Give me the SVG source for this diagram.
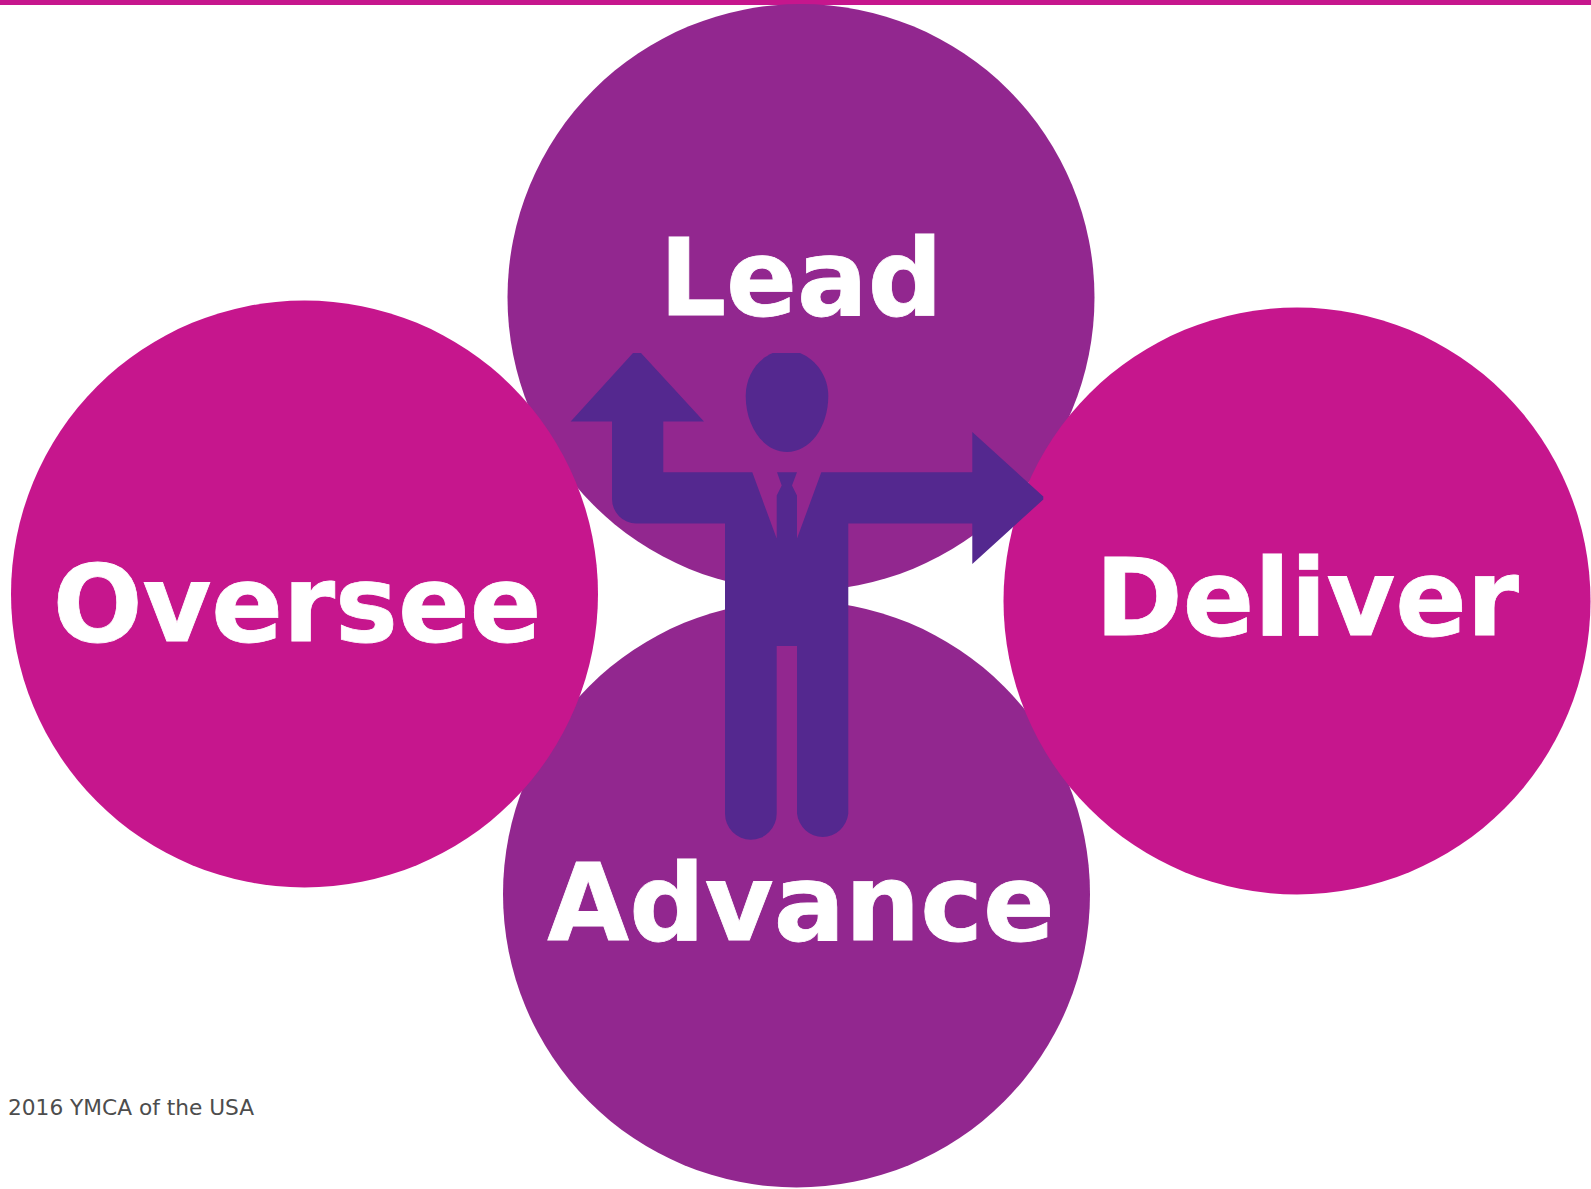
<svg xmlns="http://www.w3.org/2000/svg" width="1591" height="1189" viewBox="0 0 1591 1189">
<style>
.purple{fill:#92278f}
.magenta{fill:#c6168d}
.label{font-family:"DejaVu Sans",Verdana,sans-serif;font-weight:700;font-size:107px;fill:#fff;text-anchor:middle;stroke:#fff;stroke-width:.8px}
.note{font-family:"DejaVu Sans",Verdana,sans-serif;font-size:21.7px;fill:#4d4d4d}
</style>
<rect width="1591" height="1189" fill="#fff"/>
<rect id="top-bar" class="magenta" x="0" y="0" width="1591" height="5"/>
<g id="lead"><circle class="purple" cx="801" cy="297.5" r="293.5"/></g>
<g id="advance"><circle class="purple" cx="796.5" cy="894" r="293.5"/></g>
<g id="oversee"><circle class="magenta" cx="304.5" cy="594" r="293.5"/></g>
<g id="deliver"><circle class="magenta" cx="1297" cy="601" r="293.5"/></g>
<g id="figure" fill="#54288f">
<path d="M633 353H641L704 421.6H663.3V472.3H752.3L776.7 538.6V495.6L781.7 485.5L777 472.3H797L792 485.5L797 495.6V538.6L821.3 472.3H972.3V432.1L1043.3 496.5V499.5L972.3 564V523.4H848.3V813.4A25.8 26.4 0 0 1 797 813.4V646.1H776.7V813.4A25.8 26.4 0 0 1 725 813.4V523.4H636A24 24.4 0 0 1 612 499V421.6H570.7Z"/>
<path d="M772.7 353H800C817 360 828.3 377 828.3 396C828.3 427 810 452 787 452C764 452 745.7 427 745.7 396C745.7 377 756 360 772.7 353Z"/>
</g>
<text class="label" transform="translate(801 315) scale(.978 1)">Lead</text>
<text class="label" transform="translate(297 640.5) scale(.9875 1)">Oversee</text>
<text class="label" transform="translate(1307 635) scale(.9855 1)">Deliver</text>
<text class="label" transform="translate(801 940) scale(.988 1)">Advance</text>
<text class="note" x="8" y="1115">2016 YMCA of the USA</text>
</svg>
